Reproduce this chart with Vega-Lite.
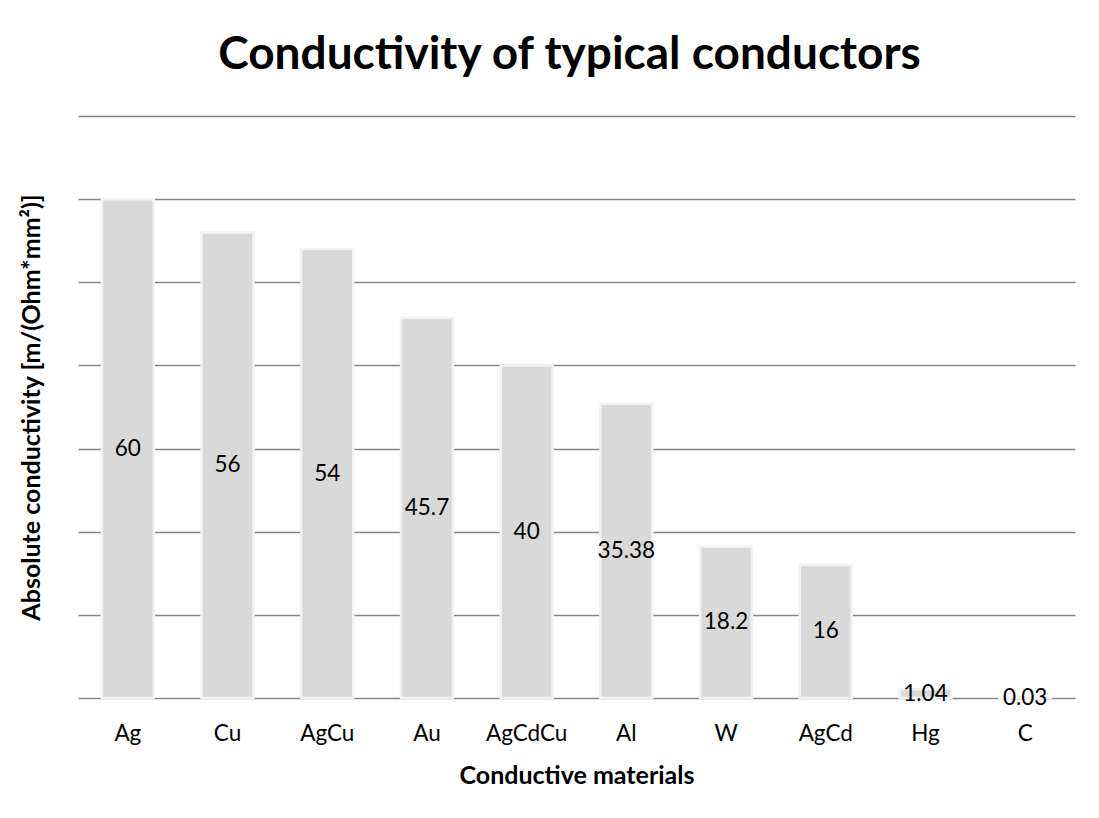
{
  "$schema": "https://vega.github.io/schema/vega-lite/v6.json",
  "width": 997,
  "height": 582,
  "autosize": {"type": "none"},
  "padding": {"left": 78, "top": 116, "right": 24, "bottom": 120},
  "background": "white",
  "config": {"view": {"stroke": null}},
  "title": {
    "text": "Conductivity of typical conductors",
    "font": "Lato",
    "fontSize": 46,
    "fontWeight": "bold",
    "color": "black",
    "anchor": "middle",
    "frame": "group",
    "baseline": "alphabetic",
    "offset": 47,
    "dy": 46,
    "dx": -7
  },
  "data": {
    "values": [
      {"material": "Ag", "conductivity": 60, "label": "60"},
      {"material": "Cu", "conductivity": 56, "label": "56"},
      {"material": "AgCu", "conductivity": 54, "label": "54"},
      {"material": "Au", "conductivity": 45.7, "label": "45.7"},
      {"material": "AgCdCu", "conductivity": 40, "label": "40"},
      {"material": "Al", "conductivity": 35.38, "label": "35.38"},
      {"material": "W", "conductivity": 18.2, "label": "18.2"},
      {"material": "AgCd", "conductivity": 16, "label": "16"},
      {"material": "Hg", "conductivity": 1.04, "label": "1.04"},
      {"material": "C", "conductivity": 0.03, "label": "0.03"}
    ]
  },
  "encoding": {
    "x": {
      "field": "material",
      "type": "nominal",
      "sort": null,
      "scale": {"paddingInner": 0.48, "paddingOuter": 0.24},
      "axis": {
        "title": "Conductive materials",
        "titleFont": "Lato",
        "titleFontSize": 25,
        "titleFontWeight": "bold",
        "titleColor": "black",
        "titlePadding": 19,
        "labelFont": "Lato",
        "labelFontSize": 22.5,
        "labelColor": "black",
        "labelAngle": 0,
        "labelPadding": 24,
        "domain": false,
        "ticks": false,
        "grid": false
      }
    }
  },
  "layer": [
    {
      "mark": {"type": "bar", "color": "#d9d9d9", "stroke": "#f2f2f2", "strokeWidth": 2.5},
      "encoding": {
        "y": {
          "field": "conductivity",
          "type": "quantitative",
          "scale": {"domain": [0, 70], "nice": false},
          "axis": {
            "title": "Absolute conductivity [m/(Ohm*mm²)]",
            "titleFont": "Lato",
            "titleFontSize": 25,
            "titleFontWeight": "bold",
            "titleColor": "black",
            "titlePadding": 34,
            "labels": false,
            "values": [0, 10, 20, 30, 40, 50, 60, 70],
            "domain": false,
            "ticks": false,
            "grid": true,
            "gridColor": "#868686",
            "gridWidth": 1.5,
            "gridOpacity": 1
          }
        }
      }
    },
    {
      "mark": {"type": "text", "font": "Lato", "fontSize": 22.5, "color": "black", "baseline": "middle", "align": "center"},
      "encoding": {
        "y": {
          "field": "conductivity",
          "type": "quantitative",
          "scale": {"domain": [0, 140], "nice": false},
          "axis": null
        },
        "text": {"field": "label"}
      }
    }
  ],
  "resolve": {"scale": {"y": "independent"}}
}
